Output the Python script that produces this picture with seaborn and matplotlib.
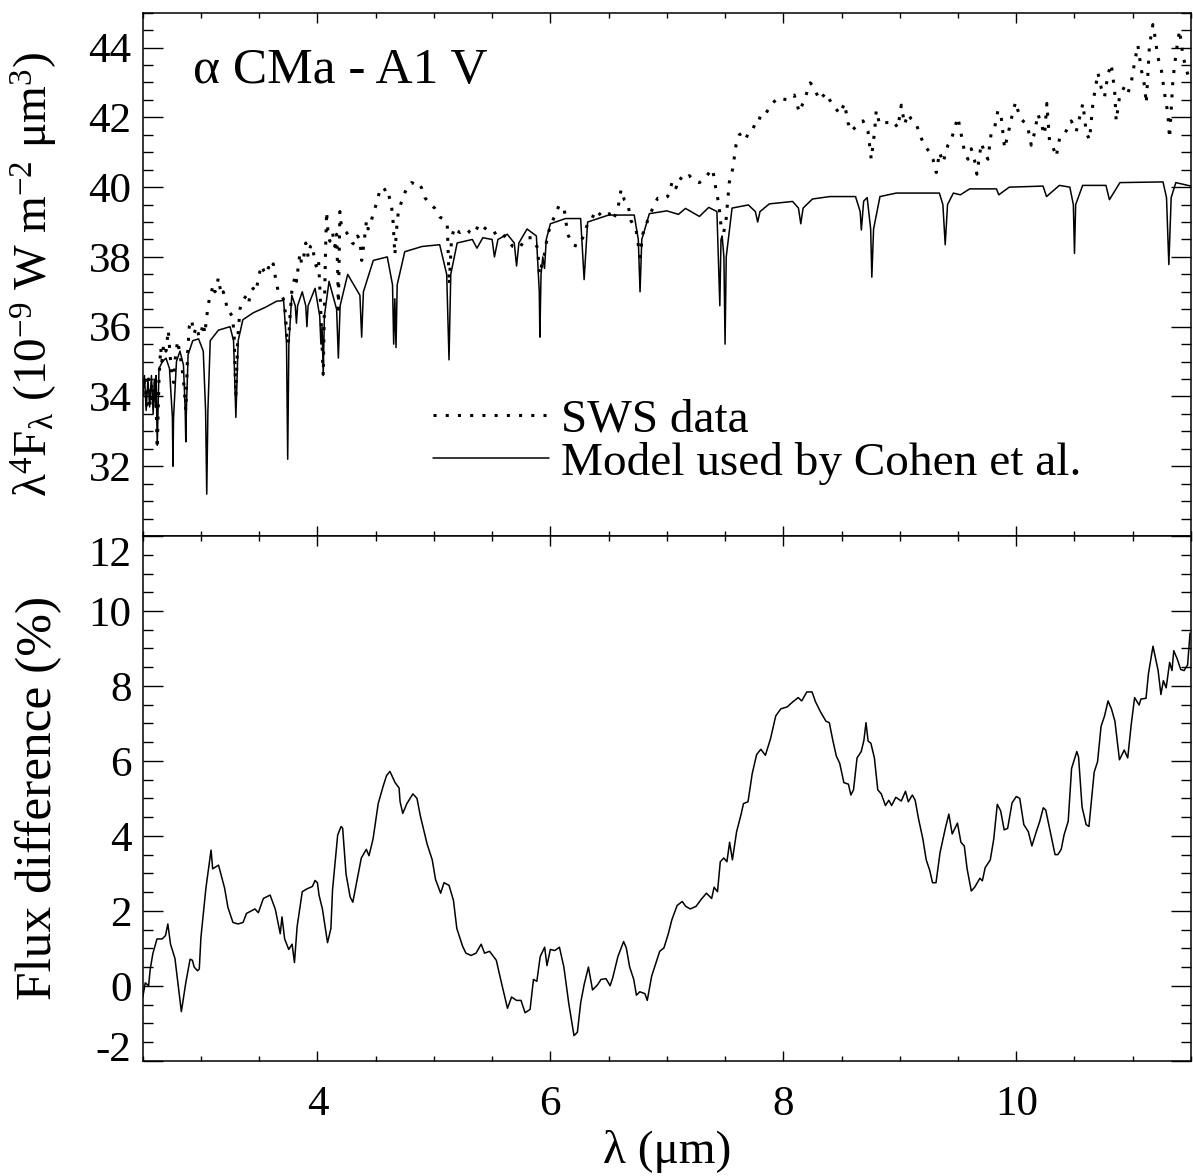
import matplotlib
matplotlib.use('Agg')
import matplotlib.pyplot as plt
import seaborn as sns
from matplotlib.ticker import MultipleLocator

# Model used by Cohen et al. (wavelength in micron, lambda^4 F_lambda)
model_points = [
    (2.50, 34.0), (2.515, 34.6), (2.53, 33.6), (2.545, 34.5), (2.56, 33.7), (2.575, 34.6),
    (2.59, 33.5), (2.60, 34.5), (2.61, 33.7), (2.615, 34.6), (2.625, 32.6), (2.64, 34.8),
    (2.67, 35.0), (2.70, 35.1), (2.73, 34.8), (2.755, 33.4), (2.76, 32.0), (2.765, 33.4),
    (2.79, 35.0), (2.82, 35.3), (2.85, 34.9), (2.865, 33.6), (2.87, 32.7), (2.875, 33.6),
    (2.89, 35.2), (2.93, 35.6), (2.98, 35.65), (3.02, 35.3), (3.04, 33.6), (3.05, 31.2),
    (3.06, 33.6), (3.08, 35.6), (3.15, 35.9), (3.25, 36.0), (3.28, 35.6), (3.30, 33.4),
    (3.32, 35.6), (3.36, 36.2), (3.45, 36.4), (3.55, 36.55), (3.65, 36.73), (3.71, 36.75),
    (3.735, 35.5), (3.745, 32.2), (3.755, 35.5), (3.78, 36.9), (3.81, 36.6), (3.82, 36.1),
    (3.83, 36.6), (3.87, 37.0), (3.90, 36.6), (3.91, 36.0), (3.92, 36.6), (3.98, 37.1),
    (4.02, 36.3), (4.03, 35.5), (4.04, 36.0), (4.05, 34.6), (4.06, 36.3), (4.10, 37.3),
    (4.165, 36.5), (4.18, 35.1), (4.195, 36.6), (4.26, 37.5), (4.365, 36.9), (4.38, 35.7),
    (4.395, 37.0), (4.48, 37.9), (4.60, 38.0), (4.645, 37.2), (4.655, 35.5), (4.665, 36.8),
    (4.675, 35.4), (4.685, 37.2), (4.75, 38.15), (4.90, 38.3), (5.05, 38.35), (5.11, 37.5),
    (5.13, 35.05), (5.145, 37.5), (5.20, 38.4), (5.33, 38.5), (5.37, 38.25), (5.42, 38.55),
    (5.50, 38.5), (5.52, 38.0), (5.55, 38.5), (5.63, 38.65), (5.69, 38.4), (5.71, 37.74),
    (5.73, 38.4), (5.80, 38.8), (5.88, 38.6), (5.905, 37.0), (5.91, 35.7), (5.92, 37.5),
    (5.935, 38.0), (5.95, 37.67), (5.965, 38.5), (6.00, 38.95), (6.13, 39.1), (6.26, 39.1),
    (6.29, 37.35), (6.32, 39.0), (6.50, 39.2), (6.72, 39.2), (6.755, 38.5), (6.77, 37.0),
    (6.785, 38.5), (6.85, 39.24), (7.00, 39.32), (7.10, 39.22), (7.16, 39.39), (7.28, 39.16),
    (7.36, 39.42), (7.43, 39.3), (7.455, 36.6), (7.465, 38.5), (7.475, 38.6), (7.49, 38.0),
    (7.50, 35.5), (7.51, 38.0), (7.56, 39.4), (7.70, 39.49), (7.76, 39.3), (7.78, 39.0),
    (7.80, 39.3), (7.88, 39.52), (8.08, 39.59), (8.13, 39.4), (8.15, 38.95), (8.17, 39.4),
    (8.25, 39.66), (8.40, 39.73), (8.62, 39.73), (8.66, 39.3), (8.67, 38.77), (8.69, 39.6),
    (8.72, 39.7), (8.75, 38.8), (8.76, 37.42), (8.775, 38.8), (8.83, 39.73), (8.97, 39.83),
    (9.34, 39.83), (9.37, 39.5), (9.39, 38.35), (9.41, 39.5), (9.46, 39.83), (9.52, 39.78),
    (9.60, 39.95), (9.83, 39.95), (9.85, 39.78), (9.94, 40.0), (10.23, 40.03), (10.26, 39.73),
    (10.37, 40.05), (10.46, 40.0), (10.49, 39.5), (10.50, 38.1), (10.51, 39.5), (10.57, 40.05),
    (10.77, 40.05), (10.80, 39.64), (10.89, 40.13), (11.26, 40.15), (11.29, 39.7), (11.31, 37.78),
    (11.33, 39.7), (11.37, 40.13), (11.50, 40.03),
]

# ISO SWS spectrum of alpha CMa
sws_points = [
    (2.50, 34.0), (2.52, 34.6), (2.535, 33.6), (2.55, 34.5), (2.565, 33.7), (2.58, 34.4),
    (2.595, 34.1), (2.61, 34.4), (2.625, 32.5), (2.64, 34.5), (2.655, 35.4), (2.665, 35.0),
    (2.68, 35.5), (2.70, 35.3), (2.72, 35.9), (2.735, 35.2), (2.75, 34.6), (2.765, 34.4),
    (2.78, 35.1), (2.80, 35.6), (2.815, 35.3), (2.835, 34.9), (2.855, 34.3), (2.87, 33.6),
    (2.885, 35.2), (2.90, 36.0), (2.92, 36.2), (2.94, 35.8), (2.963, 36.0), (2.985, 35.7),
    (3.006, 35.9), (3.02, 36.1), (3.034, 35.8), (3.05, 36.3), (3.063, 36.6), (3.077, 36.9),
    (3.09, 37.0), (3.106, 37.2), (3.12, 37.0), (3.135, 37.1), (3.149, 37.4), (3.165, 37.1),
    (3.18, 36.9), (3.192, 37.0), (3.21, 36.8), (3.22, 36.6), (3.235, 36.4), (3.249, 36.4),
    (3.27, 36.3), (3.285, 35.8), (3.30, 34.0), (3.315, 35.6), (3.335, 36.5), (3.35, 36.7),
    (3.37, 36.8), (3.392, 36.9), (3.41, 36.7), (3.43, 37.0), (3.449, 37.1), (3.465, 37.0),
    (3.478, 37.1), (3.50, 37.5), (3.521, 37.76), (3.54, 37.6), (3.564, 37.5), (3.58, 37.7),
    (3.60, 37.6), (3.621, 37.8), (3.64, 37.4), (3.664, 37.0), (3.685, 36.9), (3.707, 36.8),
    (3.725, 36.4), (3.74, 35.6), (3.75, 35.5), (3.765, 36.3), (3.78, 37.0), (3.793, 37.2),
    (3.81, 37.5), (3.821, 37.3), (3.835, 37.7), (3.85, 38.1), (3.865, 37.8), (3.878, 37.9),
    (3.90, 38.4), (3.921, 38.0), (3.94, 38.3), (3.958, 38.35), (3.975, 37.9), (3.993, 37.7),
    (4.01, 37.9), (4.025, 36.8), (4.04, 35.5), (4.05, 34.6), (4.06, 36.5), (4.07, 38.2),
    (4.079, 39.3), (4.093, 38.6), (4.107, 38.45), (4.13, 38.7), (4.15, 38.3), (4.165, 38.65),
    (4.175, 37.5), (4.18, 36.5), (4.193, 39.3), (4.205, 38.9), (4.222, 38.8), (4.25, 38.7),
    (4.279, 38.55), (4.30, 38.4), (4.322, 38.35), (4.345, 38.6), (4.365, 38.5), (4.38, 37.9),
    (4.393, 38.2), (4.422, 39.05), (4.435, 38.8), (4.451, 38.85), (4.475, 39.2), (4.494, 39.4),
    (4.515, 39.6), (4.536, 39.93), (4.56, 40.0), (4.579, 39.93), (4.595, 39.8), (4.608, 39.85),
    (4.625, 39.6), (4.637, 39.44), (4.65, 39.0), (4.66, 38.4), (4.665, 38.06), (4.68, 38.8),
    (4.695, 39.3), (4.708, 39.44), (4.737, 39.73), (4.765, 39.95), (4.79, 40.05), (4.808, 40.13),
    (4.83, 40.1), (4.851, 40.15), (4.872, 40.1), (4.894, 39.98), (4.91, 39.85), (4.923, 39.7),
    (4.945, 39.6), (4.966, 39.54), (4.99, 39.45), (5.009, 39.39), (5.03, 39.25), (5.052, 39.14),
    (5.075, 39.1), (5.094, 39.05), (5.115, 38.9), (5.132, 37.2), (5.152, 38.55), (5.165, 38.7),
    (5.18, 38.85), (5.20, 38.75), (5.223, 38.7), (5.25, 38.75), (5.28, 38.8), (5.31, 38.7),
    (5.338, 38.65), (5.36, 38.75), (5.39, 38.95), (5.448, 38.8), (5.505, 38.65), (5.562, 38.75),
    (5.619, 38.55), (5.677, 38.3), (5.734, 38.25), (5.791, 38.55), (5.848, 38.55), (5.891, 38.25),
    (5.906, 37.5), (5.948, 38.05), (5.977, 38.65), (6.02, 39.04), (6.077, 39.49), (6.12, 39.34),
    (6.149, 38.65), (6.192, 38.35), (6.235, 38.3), (6.278, 38.55), (6.32, 38.95), (6.349, 39.05),
    (6.392, 39.34), (6.449, 39.14), (6.506, 39.24), (6.535, 39.05), (6.578, 39.34), (6.607, 39.93),
    (6.635, 39.64), (6.664, 39.54), (6.692, 39.04), (6.735, 38.8), (6.77, 38.0), (6.793, 38.65),
    (6.835, 39.04), (6.878, 39.39), (6.921, 39.68), (6.964, 39.65), (7.007, 39.73), (7.05, 40.18),
    (7.079, 39.98), (7.107, 40.28), (7.15, 40.18), (7.193, 40.33), (7.236, 40.18), (7.279, 40.13),
    (7.322, 40.23), (7.365, 40.42), (7.393, 40.52), (7.422, 39.93), (7.445, 39.54), (7.465, 38.9),
    (7.488, 38.7), (7.508, 39.04), (7.536, 40.13), (7.565, 40.52), (7.594, 41.2), (7.622, 41.5),
    (7.651, 41.56), (7.68, 41.4), (7.708, 41.6), (7.737, 41.65), (7.78, 42.0), (7.823, 41.95),
    (7.866, 42.2), (7.908, 42.4), (7.951, 42.56), (7.994, 42.53), (8.037, 42.5), (8.094, 42.64),
    (8.137, 42.15), (8.18, 42.5), (8.232, 42.99), (8.266, 42.84), (8.309, 42.5), (8.366, 42.7),
    (8.398, 42.5), (8.441, 42.3), (8.484, 42.1), (8.526, 42.4), (8.555, 41.85), (8.584, 41.6),
    (8.612, 41.7), (8.641, 41.8), (8.684, 41.9), (8.727, 41.6), (8.755, 40.8), (8.784, 41.6),
    (8.798, 42.2), (8.827, 41.8), (8.87, 41.85), (8.913, 41.85), (8.941, 41.9), (8.984, 41.7),
    (9.013, 42.35), (9.041, 41.8), (9.07, 42.1), (9.099, 41.95), (9.142, 41.8), (9.185, 41.4),
    (9.213, 41.2), (9.256, 41.0), (9.285, 40.8), (9.313, 40.42), (9.342, 41.0), (9.371, 40.7),
    (9.413, 41.2), (9.442, 41.35), (9.471, 41.7), (9.499, 42.0), (9.528, 41.5), (9.557, 41.0),
    (9.585, 40.8), (9.614, 41.1), (9.642, 40.77), (9.662, 40.37), (9.70, 41.26), (9.728, 41.0),
    (9.757, 40.8), (9.785, 41.56), (9.814, 41.7), (9.843, 42.2), (9.871, 42.0), (9.90, 41.11),
    (9.928, 41.5), (9.957, 41.95), (9.994, 42.44), (10.014, 42.2), (10.043, 41.95), (10.072, 41.85),
    (10.10, 41.7), (10.129, 41.2), (10.157, 41.56), (10.186, 42.1), (10.215, 41.8), (10.243, 41.5),
    (10.263, 42.4), (10.286, 41.3), (10.315, 41.15), (10.343, 40.87), (10.372, 41.4), (10.401, 41.45),
    (10.435, 41.65), (10.472, 41.9), (10.515, 41.6), (10.544, 42.0), (10.572, 42.4), (10.601, 41.56),
    (10.629, 41.36), (10.658, 42.4), (10.687, 42.99), (10.701, 43.28), (10.73, 42.84), (10.758, 42.59),
    (10.787, 43.23), (10.815, 43.53), (10.844, 42.79), (10.858, 41.9), (10.887, 42.6), (10.93, 42.89),
    (10.959, 42.7), (10.987, 42.99), (11.016, 43.58), (11.044, 44.07), (11.073, 43.38), (11.102, 42.89),
    (11.116, 42.4), (11.144, 44.07), (11.173, 44.66), (11.187, 44.4), (11.216, 43.72), (11.245, 43.38),
    (11.273, 42.69), (11.302, 42.1), (11.316, 41.4), (11.345, 43.08), (11.373, 43.87), (11.402, 44.5),
    (11.431, 43.77), (11.459, 43.38), (11.488, 43.08),
]

# Flux difference SWS vs model (%)
diff_points = [
    (2.501, -0.30), (2.522, 0.08), (2.551, 0.0), (2.565, 0.45), (2.588, 0.87), (2.623, 1.25),
    (2.667, 1.25), (2.696, 1.34), (2.716, 1.65), (2.739, 1.11), (2.777, 0.73), (2.832, -0.69),
    (2.87, 0.08), (2.907, 0.71), (2.927, 0.68), (2.942, 0.50), (2.971, 0.40), (2.986, 0.45),
    (3.0, 1.29), (3.043, 2.61), (3.087, 3.62), (3.101, 3.12), (3.151, 3.22), (3.203, 2.61),
    (3.232, 2.09), (3.275, 1.69), (3.319, 1.65), (3.362, 1.69), (3.391, 1.93), (3.464, 2.05),
    (3.493, 1.95), (3.536, 2.33), (3.594, 2.42), (3.638, 2.05), (3.681, 1.39), (3.696, 1.84),
    (3.719, 1.25), (3.754, 0.97), (3.783, 1.11), (3.803, 0.62), (3.826, 1.58), (3.87, 2.51),
    (3.913, 2.59), (3.957, 2.65), (3.98, 2.81), (4.0, 2.75), (4.014, 2.42), (4.043, 2.05),
    (4.087, 1.15), (4.116, 1.53), (4.13, 2.56), (4.174, 4.02), (4.203, 4.25), (4.217, 4.20),
    (4.246, 2.98), (4.281, 2.37), (4.304, 2.23), (4.333, 2.70), (4.377, 3.41), (4.42, 3.64),
    (4.443, 3.47), (4.478, 3.92), (4.522, 4.86), (4.565, 5.33), (4.594, 5.61), (4.623, 5.72),
    (4.667, 5.42), (4.701, 5.28), (4.71, 4.91), (4.733, 4.60), (4.768, 4.86), (4.82, 5.12),
    (4.855, 5.0), (4.884, 4.53), (4.942, 3.78), (4.986, 3.36), (5.014, 2.84), (5.058, 2.47),
    (5.087, 2.75), (5.13, 2.68), (5.168, 2.28), (5.197, 1.53), (5.246, 1.06), (5.275, 0.87),
    (5.319, 0.81), (5.362, 0.87), (5.406, 1.11), (5.435, 0.87), (5.478, 0.92), (5.536, 0.68),
    (5.58, 0.08), (5.632, -0.60), (5.667, -0.30), (5.71, -0.39), (5.748, -0.39), (5.783, -0.72),
    (5.826, -0.63), (5.855, 0.17), (5.884, 0.12), (5.913, 0.78), (5.951, 1.03), (5.971, 0.54),
    (6.0, 0.97), (6.038, 0.94), (6.078, 1.03), (6.116, 0.50), (6.159, -0.49), (6.203, -1.33),
    (6.232, -1.24), (6.261, -0.44), (6.29, 0.03), (6.327, 0.50), (6.362, -0.11), (6.406, 0.03),
    (6.435, 0.17), (6.478, 0.19), (6.513, 0.0), (6.536, 0.22), (6.58, 0.78), (6.629, 1.18),
    (6.652, 1.01), (6.681, 0.50), (6.716, 0.17), (6.739, -0.25), (6.768, -0.16), (6.812, -0.21),
    (6.832, -0.39), (6.87, 0.26), (6.939, 0.92), (6.975, 1.01), (7.013, 1.39), (7.043, 1.76),
    (7.088, 2.14), (7.132, 2.25), (7.162, 2.12), (7.201, 2.05), (7.251, 2.12), (7.296, 2.31),
    (7.34, 2.47), (7.385, 2.33), (7.406, 2.63), (7.435, 2.51), (7.459, 3.31), (7.489, 3.41),
    (7.516, 3.31), (7.539, 3.83), (7.563, 3.36), (7.599, 4.11), (7.638, 4.58), (7.658, 4.86),
    (7.697, 4.91), (7.733, 5.66), (7.771, 6.17), (7.807, 6.31), (7.846, 6.15), (7.89, 6.59),
    (7.935, 7.20), (7.979, 7.39), (8.033, 7.44), (8.083, 7.58), (8.128, 7.69), (8.158, 7.60),
    (8.202, 7.84), (8.247, 7.84), (8.276, 7.58), (8.321, 7.30), (8.366, 7.06), (8.395, 7.02),
    (8.425, 6.55), (8.455, 6.13), (8.484, 5.94), (8.52, 5.42), (8.559, 5.38), (8.58, 5.09),
    (8.603, 5.23), (8.633, 6.08), (8.669, 6.25), (8.692, 6.55), (8.71, 7.02), (8.728, 6.53),
    (8.752, 6.47), (8.782, 6.08), (8.811, 5.23), (8.841, 5.12), (8.877, 4.81), (8.906, 4.95),
    (8.93, 4.81), (8.966, 5.03), (9.013, 4.93), (9.049, 5.19), (9.073, 4.91), (9.108, 5.09),
    (9.132, 4.95), (9.162, 4.44), (9.198, 3.92), (9.227, 3.36), (9.257, 3.08), (9.281, 2.75),
    (9.311, 2.75), (9.346, 3.56), (9.391, 4.20), (9.421, 4.58), (9.45, 4.05), (9.495, 4.34),
    (9.525, 3.83), (9.554, 3.73), (9.578, 3.12), (9.614, 2.53), (9.643, 2.63), (9.688, 2.87),
    (9.709, 2.80), (9.733, 3.15), (9.777, 3.36), (9.807, 3.92), (9.837, 4.84), (9.866, 4.67),
    (9.896, 4.16), (9.926, 4.20), (9.964, 4.88), (10.0, 5.05), (10.03, 5.0), (10.065, 4.30),
    (10.104, 4.11), (10.134, 3.73), (10.172, 4.11), (10.202, 4.39), (10.232, 4.75), (10.253, 4.69),
    (10.291, 4.13), (10.333, 3.50), (10.357, 3.50), (10.386, 3.64), (10.41, 4.02), (10.446, 4.39),
    (10.475, 5.80), (10.52, 6.25), (10.535, 6.10), (10.565, 4.77), (10.6, 4.30), (10.624, 4.25),
    (10.669, 5.70), (10.698, 5.98), (10.728, 6.92), (10.758, 7.20), (10.788, 7.60), (10.817, 7.39),
    (10.847, 7.06), (10.886, 6.03), (10.927, 6.29), (10.957, 6.08), (10.987, 6.97), (11.016, 7.69),
    (11.055, 7.49), (11.07, 7.65), (11.114, 7.67), (11.135, 8.33), (11.174, 9.06), (11.195, 8.75),
    (11.218, 8.41), (11.242, 7.77), (11.263, 8.14), (11.287, 7.95), (11.317, 8.63), (11.337, 8.41),
    (11.352, 8.94), (11.382, 8.72), (11.412, 8.44), (11.441, 8.41), (11.471, 8.56), (11.492, 9.41),
]

top_yticks = [32, 34, 36, 38, 40, 42, 44]
bottom_yticks = [-2, 0, 2, 4, 6, 8, 10, 12]
xticks = [4, 6, 8, 10]

model_wl, model_flux = zip(*model_points)
sws_wl, sws_flux = zip(*sws_points)
diff_wl, diff_pct = zip(*diff_points)

sns.set_theme(style='ticks')
plt.rcParams['font.family'] = ['Liberation Serif', 'DejaVu Serif']
plt.rcParams['mathtext.fontset'] = 'custom'
plt.rcParams['mathtext.rm'] = 'Liberation Serif'
plt.rcParams['mathtext.it'] = 'Liberation Serif:italic'
plt.rcParams['axes.unicode_minus'] = False
plt.rcParams['axes.linewidth'] = 1.1
plt.rcParams['axes.edgecolor'] = 'black'
# seaborn's theme greys out text, the original is plain black
plt.rcParams['text.color'] = 'black'
plt.rcParams['axes.labelcolor'] = 'black'
plt.rcParams['xtick.color'] = 'black'
plt.rcParams['ytick.color'] = 'black'

fig = plt.figure(figsize=(11.93, 11.76), dpi=100)
ax1 = fig.add_axes([0.1196, 0.5442, 0.8787, 0.4450])
ax2 = fig.add_axes([0.1196, 0.0980, 0.8787, 0.4462])

# top panel: data and model
sns.lineplot(x=list(sws_wl), y=list(sws_flux), ax=ax1, color='black', lw=2.2,
             linestyle=(0, (1, 3.0)), dash_capstyle='butt', sort=False, estimator=None,
             label='SWS data')
sns.lineplot(x=list(model_wl), y=list(model_flux), ax=ax1, color='black', lw=1.1,
             sort=False, estimator=None, label='Model used by Cohen et al.')

# bottom panel: percentage difference
sns.lineplot(x=list(diff_wl), y=list(diff_pct), ax=ax2, color='black', lw=1.1,
             sort=False, estimator=None)

for ax in (ax1, ax2):
    ax.set_xlim(2.5, 11.5)
    ax.xaxis.set_major_locator(MultipleLocator(2))
    ax.xaxis.set_minor_locator(MultipleLocator(0.5))
    ax.yaxis.set_minor_locator(MultipleLocator(0.5))
    ax.tick_params(which='both', direction='in', top=True, right=True,
                   colors='black', labelcolor='black')
    ax.tick_params(axis='y', which='major', length=14.4, width=1.0, pad=8, labelsize=31)
    ax.tick_params(axis='y', which='minor', length=7.2, width=1.0)
    ax.tick_params(axis='x', which='major', length=7.2, width=1.0, pad=18, labelsize=31)
    ax.tick_params(axis='x', which='minor', length=3.6, width=1.0)
    for sp in ax.spines.values():
        sp.set_visible(True)
        sp.set_color('black')

ax1.set_ylim(30, 45)
ax1.set_yticks(top_yticks)
ax1.set_xticks(xticks)
ax1.tick_params(axis='x', labelbottom=False)
ax1.set_xlabel('')
ax1.set_ylabel('λ$^{4}$F$_{\\mathrm{\\lambda}}$ (10$^{-9}$ W m$^{-2}$ μm$^{3}$)',
               fontsize=34, color='black')
ax1.yaxis.set_label_coords(-0.079, 0.5)

ax1.text(0.048, 0.866, 'α CMa - A1 V', transform=ax1.transAxes, fontsize=37,
         ha='left', va='baseline', color='black')

leg = ax1.legend(loc='upper left', bbox_to_anchor=(0.277, 0.262), frameon=False,
                 handlelength=2.45, handletextpad=0.26, labelspacing=0.0, borderpad=0,
                 borderaxespad=0, fontsize=34)
for t in leg.get_texts():
    t.set_color('black')

ax2.set_ylim(-2, 12)
ax2.set_yticks(bottom_yticks)
ax2.set_xticks(xticks)
ax2.set_ylabel('Flux difference (%)', fontsize=37, color='black')
ax2.yaxis.set_label_coords(-0.077, 0.5)
ax2.set_xlabel('λ (μm)', fontsize=34, color='black')
ax2.xaxis.set_label_coords(0.5, -0.132)

# keep the end labels inside the panel like the original
for lab in ax2.get_yticklabels():
    if lab.get_text() == '12':
        lab.set_va('top')
    elif lab.get_text() == '-2':
        lab.set_va('baseline')

fig.savefig('out.png', dpi=100)
